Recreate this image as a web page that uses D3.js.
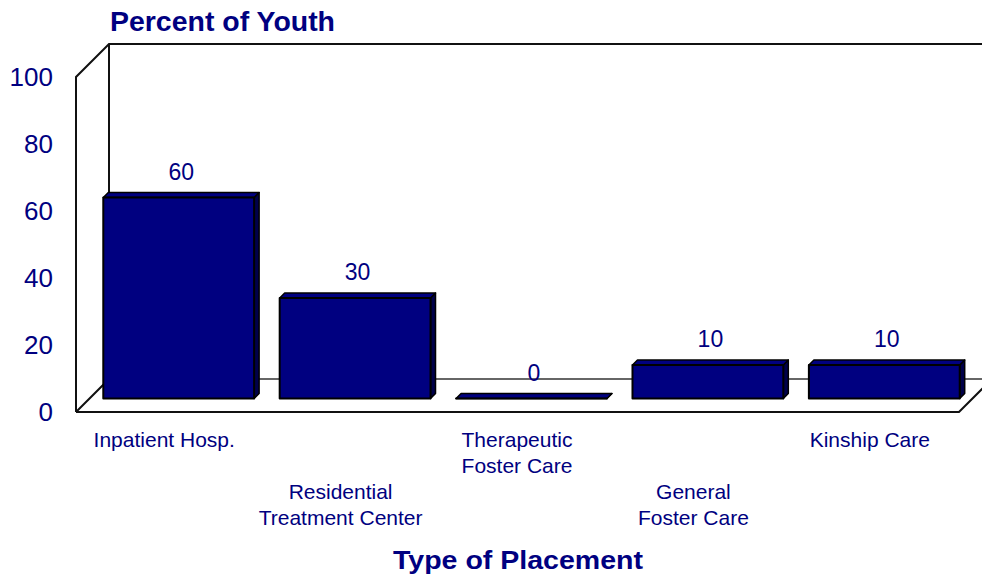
<!DOCTYPE html>
<html lang="en">
<head>
    <meta charset="UTF-8">
    <title>Percent of Youth by Type of Placement</title>
    <script src="https://d3js.org/d3.v7.min.js"></script>
    <style>
        body {
            margin: 0;
            padding: 0;
            background-color: #fff;
        }
        svg {
            display: block;
            font-family: "Liberation Sans", Arial, sans-serif;
        }
    </style>
</head>
<body>
    <div id="chart"></div>

    <script>
        // Chart data
        const categories = [
            ["Inpatient Hosp."],
            ["Residential", "Treatment Center"],
            ["Therapeutic", "Foster Care"],
            ["General", "Foster Care"],
            ["Kinship Care"]
        ];
        const percents = [60, 30, 0, 10, 10];
        const yTicks = [0, 20, 40, 60, 80, 100];

        const width = 982, height = 578;
        const navy = "#000080";

        // 3D look: depth shifts a point right and up by the same amount
        const floorDepth = 33;
        const barZ0 = 13.5, barZ1 = 18.5;
        const shift = (p, z) => [p[0] + z, p[1] - z];

        const svg = d3.select("#chart")
            .append("svg")
            .attr("width", width)
            .attr("height", height);

        const x = d3.scaleBand()
            .domain(d3.range(categories.length))
            .range([77, 959])
            .paddingInner(0.145)
            .paddingOuter(0.0725);

        const y = d3.scaleLinear()
            .domain([0, 100])
            .range([412, 77]);

        const line = d3.line();

        // Walls and floor outline
        const x0 = 76, x1 = x.range()[1];
        const frontBottomLeft = [x0, y(0)];
        const frontTopLeft = [x0, y(100)];
        const backBottomLeft = shift(frontBottomLeft, floorDepth);
        const backTopLeft = shift(frontTopLeft, floorDepth);

        // back floor line (behind the bars)
        svg.append("path")
            .attr("d", line([backBottomLeft, shift([x1, y(0)], floorDepth)]))
            .attr("stroke", "#333")
            .attr("stroke-width", 1.5)
            .attr("fill", "none");

        // left wall + back wall edges
        svg.append("path")
            .attr("d", line([frontBottomLeft, frontTopLeft, backTopLeft, [width + 20, backTopLeft[1]]]))
            .attr("stroke", "#111")
            .attr("stroke-width", 2)
            .attr("fill", "none");

        svg.append("path")
            .attr("d", line([backTopLeft, backBottomLeft, frontBottomLeft]))
            .attr("stroke", "#111")
            .attr("stroke-width", 2)
            .attr("fill", "none");

        // front edge of floor and right diagonal
        svg.append("path")
            .attr("d", line([frontBottomLeft, [x1, y(0)], shift([x1, y(0)], floorDepth)]))
            .attr("stroke", "#111")
            .attr("stroke-width", 2)
            .attr("fill", "none");

        // Bars
        const bars = svg.append("g")
            .selectAll("g")
            .data(percents)
            .join("g");

        function barPoints(d, i) {
            const l = x(i), r = x(i) + x.bandwidth();
            const fb = [l, y(0)], ft = [l, y(d)], rt = [r, y(d)], rb = [r, y(0)];
            return {
                front: [fb, ft, rt, rb].map(p => shift(p, barZ0)),
                top: [ft, rt].map(p => shift(p, barZ0)).concat([rt, ft].map(p => shift(p, barZ1))),
                side: [rb, rt].map(p => shift(p, barZ0)).concat([rt, rb].map(p => shift(p, barZ1)))
            };
        }

        bars.append("path")
            .attr("d", (d, i) => line(barPoints(d, i).side) + "Z")
            .attr("fill", "#00004a")
            .attr("stroke", "#000")
            .attr("stroke-width", 1.5)
            .attr("stroke-linejoin", "round");

        bars.append("path")
            .attr("d", (d, i) => line(barPoints(d, i).top) + "Z")
            .attr("fill", navy)
            .attr("stroke", "#000")
            .attr("stroke-width", 1.5)
            .attr("stroke-linejoin", "round");

        bars.append("path")
            .attr("d", (d, i) => line(barPoints(d, i).front) + "Z")
            .attr("fill", navy)
            .attr("stroke", "#000")
            .attr("stroke-width", 2)
            .attr("stroke-linejoin", "round");

        // Value labels above bars
        bars.append("text")
            .attr("x", (d, i) => x(i) + x.bandwidth() / 2 + (barZ0 + barZ1) / 2)
            .attr("y", d => y(d) - barZ1 - 13)
            .attr("text-anchor", "middle")
            .attr("font-size", "23px")
            .attr("fill", navy)
            .text(d => d);

        // Y tick labels
        svg.append("g")
            .selectAll("text")
            .data(yTicks)
            .join("text")
            .attr("x", 53)
            .attr("y", d => y(d))
            .attr("dy", "0.36em")
            .attr("text-anchor", "end")
            .attr("font-size", "26px")
            .attr("fill", navy)
            .text(d => d);

        // Category labels, staggered on two rows
        const catLabels = svg.append("g")
            .selectAll("text")
            .data(categories)
            .join("text")
            .attr("text-anchor", "middle")
            .attr("font-size", "21px")
            .attr("fill", navy)
            .attr("transform", (d, i) => `translate(${x(i) + x.bandwidth() / 2 - 1}, ${i % 2 === 0 ? 447 : 499})`);

        catLabels.selectAll("tspan")
            .data(d => d)
            .join("tspan")
            .attr("x", 0)
            .attr("dy", (d, j) => j === 0 ? 0 : 26)
            .text(d => d);

        // Titles
        svg.append("text")
            .attr("x", 110)
            .attr("y", 31)
            .attr("font-size", "28px")
            .attr("font-weight", "bold")
            .attr("fill", navy)
            .attr("textLength", 225)
            .attr("lengthAdjust", "spacingAndGlyphs")
            .text("Percent of Youth");

        svg.append("text")
            .attr("x", 393)
            .attr("y", 569)
            .attr("font-size", "26px")
            .attr("font-weight", "bold")
            .attr("fill", navy)
            .attr("textLength", 250)
            .attr("lengthAdjust", "spacingAndGlyphs")
            .text("Type of Placement");
    </script>
</body>
</html>
